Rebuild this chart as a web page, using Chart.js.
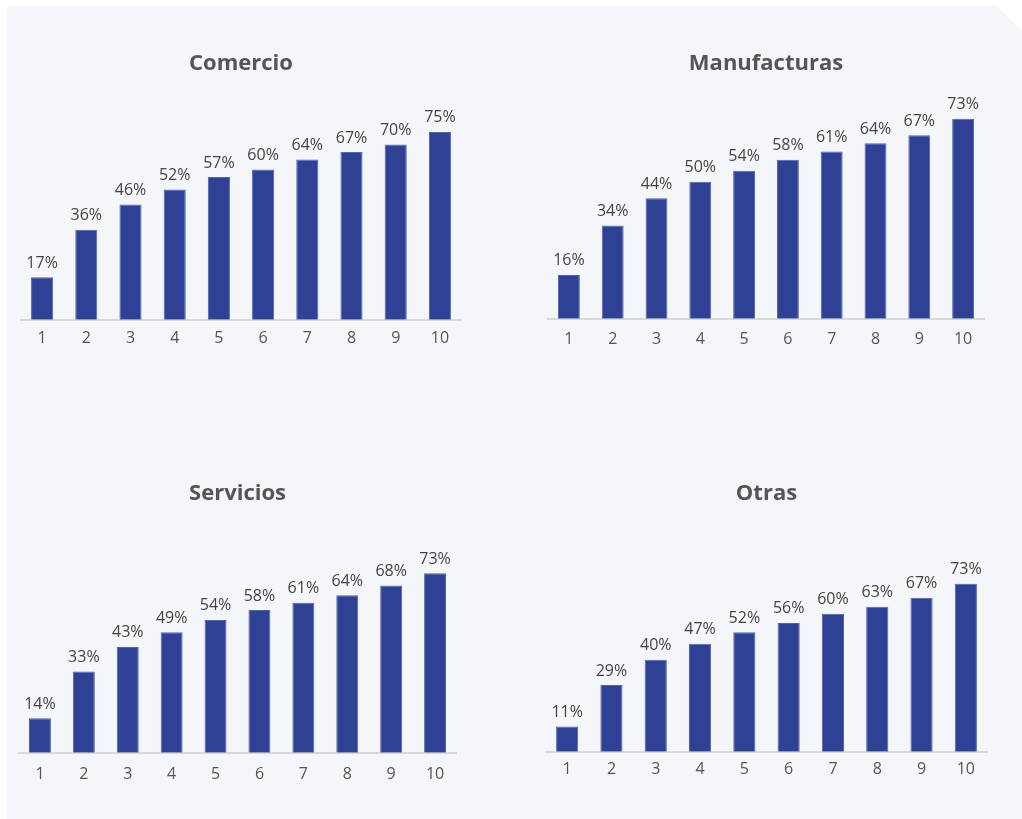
<!DOCTYPE html>
<html lang="es">
<head>
<meta charset="utf-8">
<title>Deciles por sector</title>
<script src="https://cdn.jsdelivr.net/npm/chart.js@4.4.1/dist/chart.umd.min.js"></script>
<style>
  html, body { margin: 0; padding: 0; background: #ffffff; overflow: hidden; }
  body { width: 1022px; height: 819px; position: relative; font-family: 'Open Sans', sans-serif; }
  .panel {
    position: absolute; left: 7px; top: 6px; width: 1015px; height: 813px;
    background: #f5f6fa;
    clip-path: polygon(0 0, calc(100% - 25px) 0, 100% 25px, 100% 100%, 0 100%);
  }
  .box { position: absolute; }
  #box1 { left: 20px; top: 39px; width: 442px; height: 310px; }
  #box2 { left: 547px; top: 39px; width: 438px; height: 313px; }
  #box3 { left: 18px; top: 469px; width: 439px; height: 319px; }
  #box4 { left: 545px; top: 469px; width: 443px; height: 310px; }
</style>
</head>
<body>
<div class="panel"></div>
<div class="box" id="box1"><canvas id="chart1"></canvas></div>
<div class="box" id="box2"><canvas id="chart2"></canvas></div>
<div class="box" id="box3"><canvas id="chart3"></canvas></div>
<div class="box" id="box4"><canvas id="chart4"></canvas></div>

<script>
// data
const categories = ['1', '2', '3', '4', '5', '6', '7', '8', '9', '10'];
const comercio = [17, 36, 46, 52, 57, 60, 64, 67, 70, 75];
const manufacturas = [16, 34, 44, 50, 54, 58, 61, 64, 67, 73];
const servicios = [14, 33, 43, 49, 54, 58, 61, 64, 68, 73];
const otras = [11, 29, 40, 47, 52, 56, 60, 63, 67, 73];
const titles = ['Comercio', 'Manufacturas', 'Servicios', 'Otras'];

// each panel has its own vertical scale
const yMax = [89.6, 81.5, 92.4, 98.4];
const tickPad = [1, 3, 4, 0];

const barColor = '#2e4194';

// value labels above the bars
const barLabels = {
  id: 'barLabels',
  afterDatasetsDraw(chart) {
    const ctx = chart.ctx;
    const meta = chart.getDatasetMeta(0);
    const values = chart.data.datasets[0].data;
    ctx.save();
    ctx.font = '16px "Open Sans"';
    ctx.fillStyle = '#444444';
    ctx.textAlign = 'center';
    ctx.textBaseline = 'alphabetic';
    meta.data.forEach(function (bar, i) {
      ctx.fillText(values[i] + '%', bar.x, bar.y - 9.5);
    });
    ctx.restore();
  }
};

function makeChart(id, title, values, max, pad) {
  const ctx = document.getElementById(id).getContext('2d');
  return new Chart(ctx, {
    type: 'bar',
    data: {
      labels: categories,
      datasets: [{
        data: values,
        backgroundColor: barColor,
        borderColor: '#5064ac',
        borderWidth: 1,
        barPercentage: 0.5,
        categoryPercentage: 1
      }]
    },
    options: {
      responsive: true,
      maintainAspectRatio: false,
      animation: false,
      layout: { padding: 0 },
      plugins: {
        legend: { display: false },
        tooltip: { enabled: false },
        title: {
          display: true,
          text: title,
          color: '#555555',
          font: { family: 'Open Sans', size: 22, weight: 'bold' },
          padding: { top: 12, bottom: 18 }
        }
      },
      scales: {
        x: {
          grid: { display: false },
          border: { display: true, color: '#d9d9d9', width: 2 },
          ticks: {
            color: '#555555',
            font: { family: 'Open Sans', size: 16 },
            padding: pad,
            maxRotation: 0
          }
        },
        y: {
          display: false,
          min: 0,
          max: max
        }
      }
    },
    plugins: [barLabels]
  });
}

makeChart('chart1', titles[0], comercio, yMax[0], tickPad[0]);
makeChart('chart2', titles[1], manufacturas, yMax[1], tickPad[1]);
makeChart('chart3', titles[2], servicios, yMax[2], tickPad[2]);
makeChart('chart4', titles[3], otras, yMax[3], tickPad[3]);
</script>
</body>
</html>
